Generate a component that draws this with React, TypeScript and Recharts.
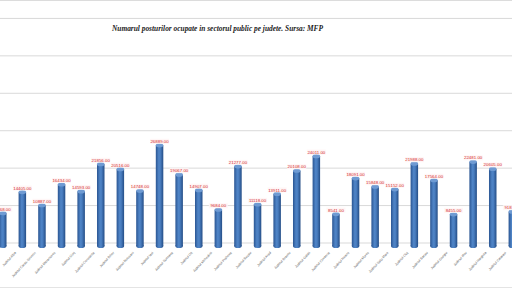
import React from "react";
import { BarChart, Bar, XAxis, YAxis, CartesianGrid, LabelList } from "recharts";

// Counties shown in this slice of the chart
const counties = [
  "Judetul Vaslui",
  "Judetul Alba",
  "Judetul Caras-Severin",
  "Judetul Maramures",
  "Judetul Gorj",
  "Judetul Constanta",
  "Judetul Bihor",
  "Judetul Botosani",
  "Judetul Iasi",
  "Judetul Suceava",
  "Judetul Olt",
  "Judetul Mehedinti",
  "Judetul Prahova",
  "Judetul Buzau",
  "Judetul Arad",
  "Judetul Brasov",
  "Judetul Galati",
  "Judetul Covasna",
  "Judetul Neamt",
  "Judetul Mures",
  "Judetul Satu Mare",
  "Judetul Cluj",
  "Judetul Bacau",
  "Judetul Giurgiu",
  "Judetul Ilfov",
  "Judetul Harghita",
  "Judetul Calarasi",
];

// Number of occupied public-sector posts per county
const posts = [
  8768, 14405, 10887, 16434, 14593, 21856, 20516, 14748, 26889, 19067, 14907,
  9684, 21277, 11118, 13911, 20108, 24011, 8541, 18091, 15848, 15152, 21988,
  17564, 8455, 22481, 20605, 9181,
];

// Value axis range and gridline levels
const yMax = 70000;
const gridValues = [0, 10000, 20000, 30000, 40000, 50000, 60000];

const data = counties.map((name, i) => ({ name, value: posts[i] }));

// Back-wall gridlines sit a few pixels above the floor of the 3D bars
const WALL_SHIFT = 3;

const CylinderBar = (props: any) => {
  const { x, y, width, height } = props;
  if (height <= 0) return null;
  const ry = width * 0.28;
  return (
    <g>
      <rect x={x} y={y} width={width} height={height} fill="url(#cyl)" />
      <ellipse cx={x + width / 2} cy={y + height} rx={width / 2} ry={ry} fill="url(#cyl)" />
      <ellipse cx={x + width / 2} cy={y} rx={width / 2} ry={ry} fill="#6f9bd3" />
    </g>
  );
};

const ValueLabel = (props: any) => {
  const { x, y, width, value } = props;
  const cx = x + width / 2;
  return (
    <g>
      <rect x={cx - 9.5} y={y - 6.5} width={19} height={5} fill="#fff5f5" opacity={0.9} />
      <text
        x={cx}
        y={y - 2.4}
        textAnchor="middle"
        fontSize={4.4}
        fontFamily="Arial, 'Liberation Sans', sans-serif"
        fill="#d42a2a"
      >
        {Number(value).toFixed(2)}
      </text>
    </g>
  );
};

const CountyTick = (props: any) => {
  const { x, y, payload } = props;
  return (
    <text
      transform={`translate(${x - 6},${y + 5}) rotate(-47)`}
      textAnchor="end"
      fontSize={3.4}
      fontFamily="Arial, 'Liberation Sans', sans-serif"
      fill="#666"
    >
      {payload.value}
    </text>
  );
};

export default function App() {
  return (
    <div
      style={{
        position: "absolute",
        left: 0,
        top: 0,
        width: 512,
        height: 288,
        overflow: "hidden",
        background: "#ffffff",
      }}
    >
      <div style={{ position: "absolute", left: 0, top: 0, width: 512, height: 1, background: "#dcdcdc" }} />
      <div style={{ position: "absolute", left: 0, top: 287, width: 512, height: 1, background: "#e4e4e4" }} />
      <div style={{ position: "absolute", left: -7.3, top: -16 }}>
        <BarChart
          width={529.2}
          height={304}
          data={data}
          margin={{ top: 0, right: 0, bottom: 0, left: 0 }}
          barCategoryGap={0}
        >
          <defs>
            <linearGradient id="cyl" x1="0" y1="0" x2="1" y2="0">
              <stop offset="0" stopColor="#2a5592" />
              <stop offset="0.4" stopColor="#4f84c6" />
              <stop offset="0.6" stopColor="#4a7ec0" />
              <stop offset="1" stopColor="#244d86" />
            </linearGradient>
          </defs>
          <CartesianGrid
            vertical={false}
            stroke="#d9d9d9"
            horizontalCoordinatesGenerator={({ offset }: any) =>
              gridValues.map(
                (v) => offset.top + offset.height * (1 - v / yMax) - WALL_SHIFT
              )
            }
          />
          <XAxis
            dataKey="name"
            interval={0}
            height={42}
            axisLine={false}
            tickLine={false}
            tickSize={0}
            tick={<CountyTick />}
          />
          <YAxis hide domain={[0, yMax]} ticks={gridValues} />
          <Bar dataKey="value" barSize={7.5} shape={<CylinderBar />} isAnimationActive={false}>
            <LabelList dataKey="value" content={<ValueLabel />} />
          </Bar>
        </BarChart>
      </div>
      <div
        style={{
          position: "absolute",
          left: 0,
          top: 24,
          width: 435,
          textAlign: "center",
          fontFamily: "'Liberation Serif', 'Times New Roman', serif",
          fontWeight: "bold",
          fontStyle: "italic",
          fontSize: 7.4,
          color: "#222",
          whiteSpace: "nowrap",
        }}
      >
        Numarul posturilor ocupate in sectorul public pe judete. Sursa: MFP
      </div>
    </div>
  );
}
